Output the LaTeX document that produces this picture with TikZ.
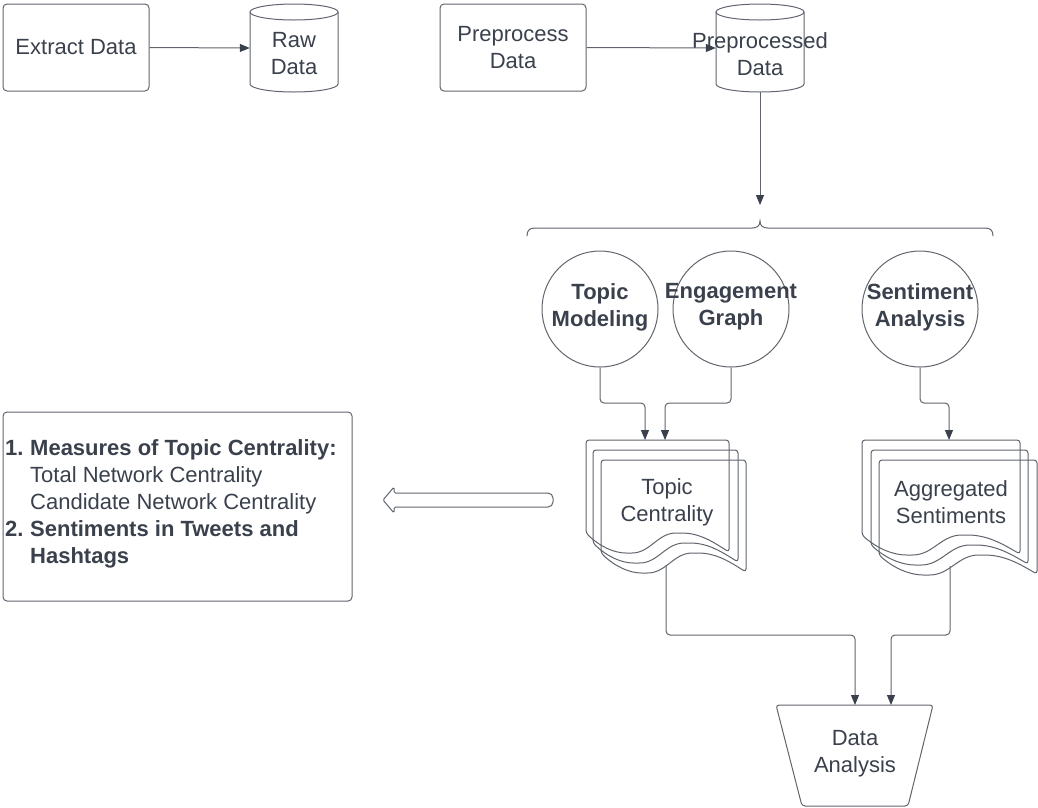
\documentclass[tikz,border=0pt]{standalone}
\usepackage{fontspec}
\setmainfont{Liberation Sans}
\usetikzlibrary{arrows.meta,calc}
\definecolor{ln}{RGB}{96,100,108}
\definecolor{tx}{RGB}{58,65,76}
\newcommand\docshape[4]{%
\draw[line,rounded corners=3pt] ({#1},{#4}) -- ({#1},{#2}) -- ({#3},{#2}) -- ({#3},{#4+19})
  .. controls ({#3-0.1*(#3-#1)},{#4+10}) and ({#1+0.8*(#3-#1)},{#4}) .. ({#1+0.65*(#3-#1)},{#4})
  .. controls ({#1+0.5*(#3-#1)},{#4}) and ({#1+0.45*(#3-#1)},{#4+20}) .. ({#1+0.3*(#3-#1)},{#4+20})
  .. controls ({#1+0.2*(#3-#1)},{#4+20}) and ({#1+0.1*(#3-#1)},{#4+14}) .. cycle;}
\newcommand\cyl[4]{% L T R B
\draw[line] ({#1},{#2+8}) -- ({#1},{#4-8}) arc[start angle=180,end angle=0,x radius={(#3-#1)/2},y radius=8] -- ({#3},{#2+8});
\draw[line] ({(#1+#3)/2},{#2+8}) ellipse[x radius={(#3-#1)/2},y radius=8];}
\begin{document}
\begin{tikzpicture}[x=1pt,y=-1pt,
  line/.style={draw=ln,line width=1pt},
  arr/.style={line,rounded corners=4pt,-{Triangle[length=10pt,width=8pt,color=tx]}},
  txt/.style={text=tx,font=\fontsize{22}{27}\selectfont,align=center,inner sep=0pt},
  btxt/.style={txt,font=\fontsize{22}{27}\selectfont\bfseries},
  box/.style={line,rounded corners=4pt,minimum width=146pt,minimum height=87pt,inner sep=0pt},
  circ/.style={line,circle,minimum size=116pt,inner sep=0pt},
  cylbox/.style={minimum width=88pt,minimum height=88pt,inner sep=0pt}
]
\useasboundingbox (0,0) rectangle (1038,807);

% top row
\node[box,txt] (extract) at (76,47.5) {Extract Data};
\node[cylbox] (rawc) at (294,48) {};
\cyl{250}{4}{338}{92}
\node[txt] (raw) at (294,54) {Raw\\Data};
\node[box,txt] (prep) at (513,47.5) {Preprocess\\Data};
\node[cylbox] (ppc) at (760,48) {};
\cyl{716}{4}{804}{92}
\node[txt] (pp) at (760,54) {Preprocessed\\Data};

\draw[arr] (extract.east) -- (rawc.west);
\draw[arr] (prep.east) -- (ppc.west);
\coordinate (brarr) at (760,205);
\draw[arr] (ppc.south) -- (brarr);

% brace
\draw[line] (527,236) .. controls (527,231) and (529,228) .. (535,228) -- (752,228)
  .. controls (757,228) and (760,226) .. (760,221)
  .. controls (760,226) and (763,228) .. (768,228) -- (985,228)
  .. controls (991,228) and (993,231) .. (993,236);

% circles
\node[circ] (tm) at (600,309) {};
\node[btxt] (tmt) at (600,307) {Topic\\Modeling};
\node[circ] (eg) at (731,309) {};
\node[btxt] (egt) at (731,307) {Engagement\\Graph};
\node[circ] (sa) at (920,309) {};
\node[btxt] (sat) at (920,307) {Sentiment\\Analysis};

% documents
\docshape{586}{440}{729}{533}
\docshape{593}{450}{738}{543}
\docshape{601}{460}{746}{553}
\node[txt] (tc) at (667,502) {Topic\\Centrality};
\docshape{862}{440}{1020}{535}
\docshape{871}{450}{1028}{545}
\docshape{879}{460}{1037}{555}
\node[txt] (ag) at (951,502) {Aggregated\\Sentiments};

\coordinate (lvl1) at (0,403);
\coordinate (tcin1) at (645,440);
\coordinate (tcin2) at (665,440);
\coordinate (agin) at (949,440);
\draw[arr] (tm.south) -- (tm.south |- lvl1) -| (tcin1);
\draw[arr] (eg.south) -- (eg.south |- lvl1) -| (tcin2);
\draw[arr] (sa.south) -- (sa.south |- lvl1) -| (agin);

% data analysis
\draw[line,rounded corners=3pt] (776,705) -- (933,705) -- (908,806) -- (802,806) -- cycle;
\node[txt] (da) at (855,753.5) {Data\\Analysis};
\coordinate (lvl2) at (0,635);
\coordinate (tcout) at (666,565);
\coordinate (agout) at (950,566);
\coordinate (dain1) at (855,705);
\coordinate (dain2) at (891,705);
\draw[arr] (tcout) -- (tcout |- lvl2) -| (dain1);
\draw[arr] (agout) -- (agout |- lvl2) -| (dain2);

% hollow arrow
\draw[line,rounded corners=1.5pt] (383,500) -- (394,487) -- (394,493) [rounded corners=5pt] -- (553,493) -- (553,507) [rounded corners=1.5pt] -- (394,507) -- (394,513) -- cycle;

% left box
\node[line,rounded corners=4pt,minimum width=349pt,minimum height=189pt,inner sep=0pt] (meas) at (177.5,506.5) {};
\node[txt,align=left,anchor=west] (meastxt) at (5,504) {\textbf{\makebox[25pt][l]{1.}Measures of Topic Centrality:}\\
\hspace*{25pt}Total Network Centrality\\
\hspace*{25pt}Candidate Network Centrality\\
\textbf{\makebox[25pt][l]{2.}Sentiments in Tweets and}\\
\textbf{\hspace*{25pt}Hashtags}};
\end{tikzpicture}
\end{document}
